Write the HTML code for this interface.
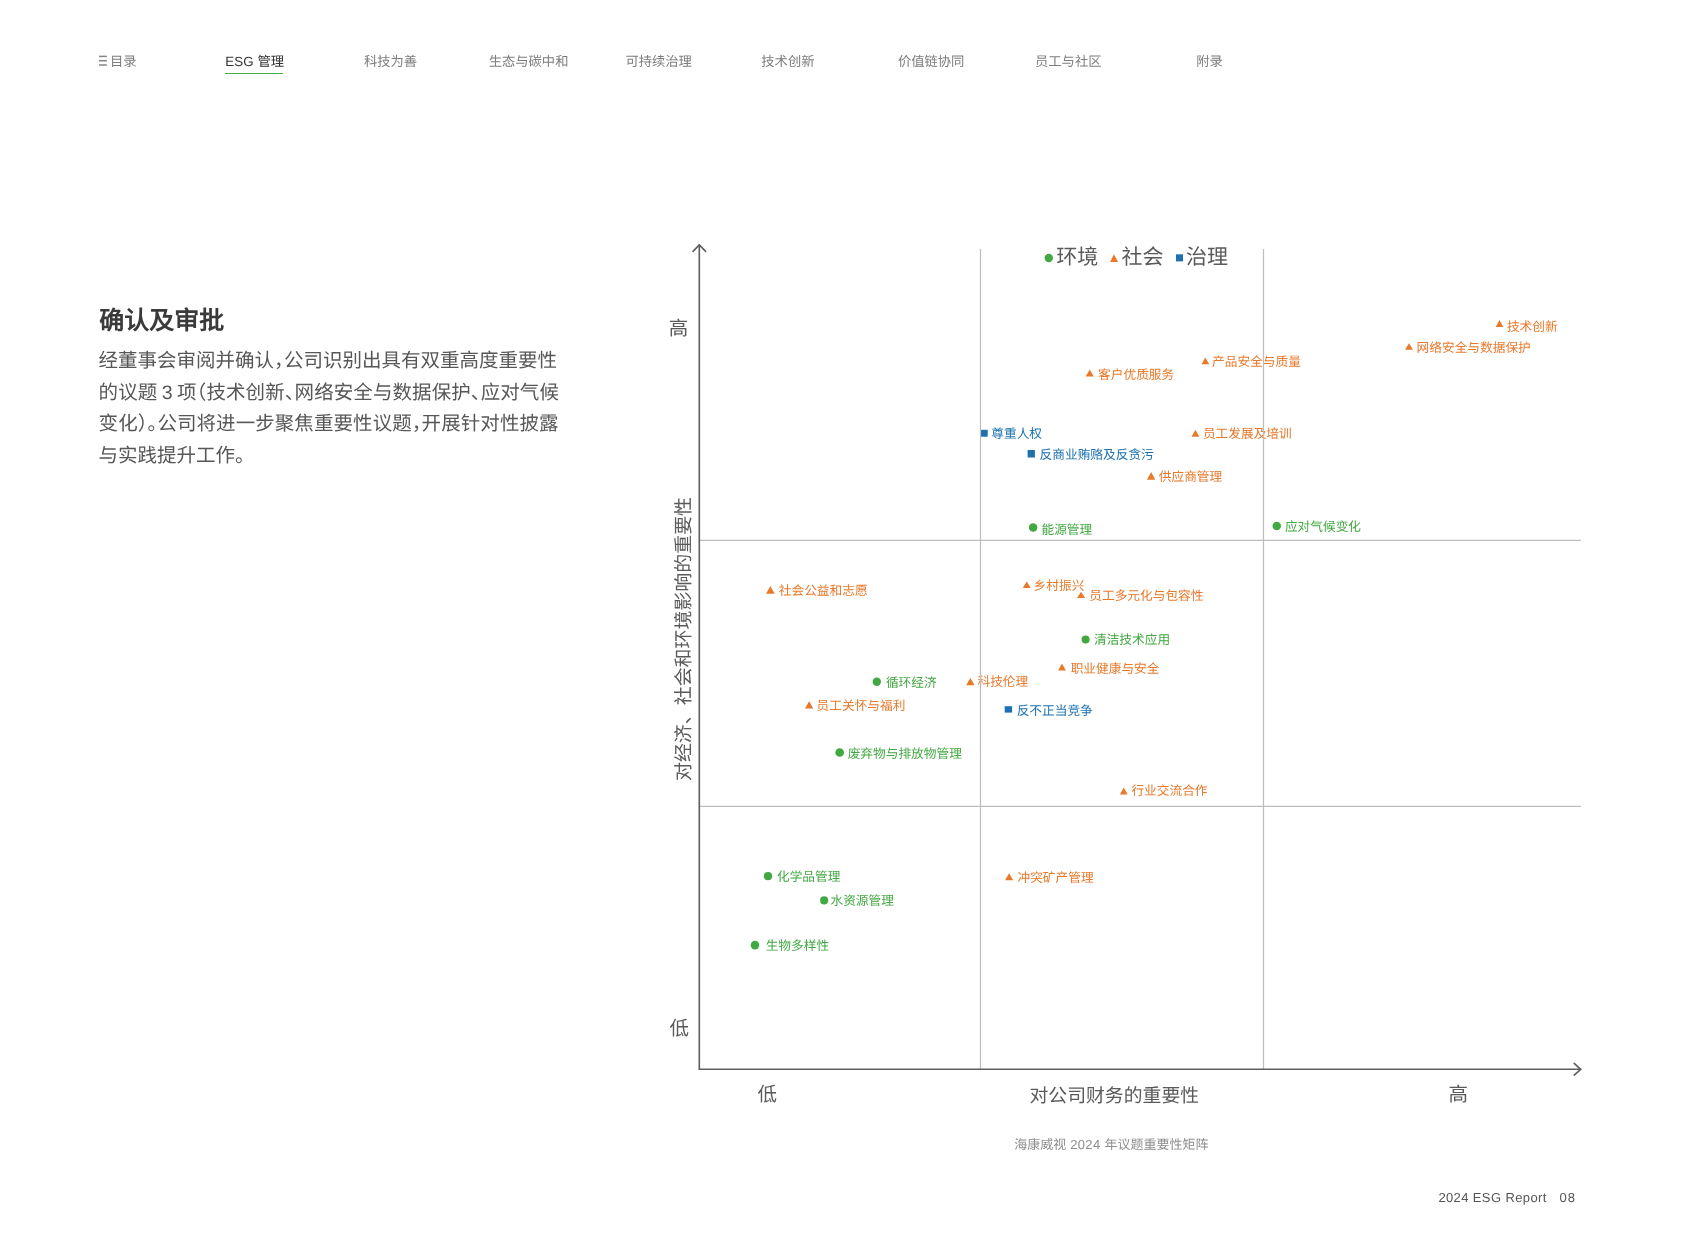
<!DOCTYPE html>
<html lang="zh-CN"><head><meta charset="utf-8"><title>ESG</title>
<style>
html,body{margin:0;padding:0;background:#fff;}
body{width:1684px;height:1242px;position:relative;overflow:hidden;font-family:"Liberation Sans",sans-serif;text-rendering:geometricPrecision;}
.a{position:absolute;white-space:nowrap;line-height:1;}
.nv{position:absolute;top:54.9px;font-size:13.3px;line-height:13.3px;color:#7d7d7d;white-space:nowrap;}
.lb{position:absolute;font-size:12.7px;line-height:12.7px;white-space:nowrap;}
.pl{position:absolute;left:98.6px;font-size:19.5px;line-height:19.5px;color:#575757;white-space:nowrap;text-align:justify;text-align-last:justify;}
.h{font-feature-settings:"halt";}
.wrap{position:absolute;left:0;top:0;width:1684px;height:1242px;will-change:transform;}
</style></head><body><div class="wrap">
<!-- nav -->
<svg class="a" style="left:0;top:0" width="200" height="80"><g stroke="#858585" stroke-width="1.5"><line x1="99" y1="56.4" x2="106.9" y2="56.4"/><line x1="99" y1="60.7" x2="106.9" y2="60.7"/><line x1="99" y1="65" x2="106.9" y2="65"/></g></svg>
<div class="nv" style="left:110.00px">目录</div><div class="nv" style="left:363.90px">科技为善</div><div class="nv" style="left:488.70px">生态与碳中和</div><div class="nv" style="left:625.40px">可持续治理</div><div class="nv" style="left:761.30px">技术创新</div><div class="nv" style="left:897.90px">价值链协同</div><div class="nv" style="left:1035.00px">员工与社区</div><div class="nv" style="left:1196.30px">附录</div>
<div class="nv" style="left:225.3px;color:#333"><span style="letter-spacing:0.1px">ESG </span>管理</div>
<div class="a" style="left:225.3px;top:73px;width:58px;height:1.3px;background:#45AD45"></div>
<!-- left text -->
<div class="a" style="left:99.2px;top:308.9px;font-size:25px;font-weight:bold;color:#3a3a3a">确认及审批</div>
<div class="pl" style="top:352.3px;width:457.6px">经董事会审阅并确认<span class="h">，</span>公司识别出具有双重高度重要性</div>
<div class="pl" style="top:383.9px;width:460.4px">的议题<span style="margin:0 4.4px 0 4.3px">3</span>项<span class="h">（</span>技术创新<span class="h">、</span>网络安全与数据保护<span class="h">、</span>应对气候</div>
<div class="pl" style="top:414.8px;width:460px">变化<span class="h">）。</span>公司将进一步聚焦重要性议题<span class="h">，</span>开展针对性披露</div>
<div class="pl" style="top:446.6px;text-align:left;text-align-last:left">与实践提升工作<span class="h">。</span></div>
<!-- chart text -->
<div class="lb" style="left:1506.90px;top:320.70px;color:#E8792B">技术创新</div><div class="lb" style="left:1416.60px;top:341.50px;color:#E8792B">网络安全与数据保护</div><div class="lb" style="left:1212.10px;top:356.35px;color:#E8792B">产品安全与质量</div><div class="lb" style="left:1098.10px;top:368.50px;color:#E8792B">客户优质服务</div><div class="lb" style="left:991.30px;top:428.00px;color:#1D71B0">尊重人权</div><div class="lb" style="left:1202.90px;top:428.00px;color:#E8792B">员工发展及培训</div><div class="lb" style="left:1039.60px;top:448.80px;color:#1D71B0">反商业贿赂及反贪污</div><div class="lb" style="left:1158.80px;top:470.85px;color:#E8792B">供应商管理</div><div class="lb" style="left:1041.50px;top:524.00px;color:#42A842">能源管理</div><div class="lb" style="left:1284.90px;top:521.35px;color:#42A842">应对气候变化</div><div class="lb" style="left:778.80px;top:585.15px;color:#E8792B">社会公益和志愿</div><div class="lb" style="left:1033.60px;top:580.00px;color:#E8792B">乡村振兴</div><div class="lb" style="left:1089.30px;top:590.25px;color:#E8792B">员工多元化与包容性</div><div class="lb" style="left:1094.00px;top:634.15px;color:#42A842">清洁技术应用</div><div class="lb" style="left:1070.70px;top:662.85px;color:#E8792B">职业健康与安全</div><div class="lb" style="left:885.90px;top:676.55px;color:#42A842">循环经济</div><div class="lb" style="left:977.50px;top:675.60px;color:#E8792B">科技伦理</div><div class="lb" style="left:816.60px;top:699.95px;color:#E8792B">员工关怀与福利</div><div class="lb" style="left:1016.70px;top:704.75px;color:#1D71B0">反不正当竞争</div><div class="lb" style="left:847.70px;top:748.00px;color:#42A842">废弃物与排放物管理</div><div class="lb" style="left:1131.40px;top:785.20px;color:#E8792B">行业交流合作</div><div class="lb" style="left:777.00px;top:871.15px;color:#42A842">化学品管理</div><div class="lb" style="left:1017.50px;top:871.55px;color:#E8792B">冲突矿产管理</div><div class="lb" style="left:830.50px;top:895.10px;color:#42A842">水资源管理</div><div class="lb" style="left:765.70px;top:940.00px;color:#42A842">生物多样性</div>
<!-- chart graphics -->
<svg class="a" style="left:0;top:0" width="1684" height="1242">
<polygon points="1499.50,320.00 1503.30,327.00 1495.70,327.00" fill="#E8792B"/><polygon points="1409.00,343.30 1413.00,349.80 1405.00,349.80" fill="#E8792B"/><polygon points="1205.35,357.50 1209.20,364.20 1201.50,364.20" fill="#E8792B"/><polygon points="1089.75,369.50 1093.80,376.60 1085.70,376.60" fill="#E8792B"/><rect x="980.90" y="429.80" width="6.80" height="6.90" fill="#1D71B0"/><polygon points="1195.45,429.80 1199.40,436.70 1191.50,436.70" fill="#E8792B"/><rect x="1027.60" y="450.00" width="7.30" height="7.50" fill="#1D71B0"/><polygon points="1151.15,472.00 1155.30,479.80 1147.00,479.80" fill="#E8792B"/><circle cx="1033.12" cy="527.45" r="4.24" fill="#42A842"/><circle cx="1276.75" cy="526.05" r="4.25" fill="#42A842"/><polygon points="770.35,586.10 774.70,593.80 766.00,593.80" fill="#E8792B"/><polygon points="1026.75,581.60 1030.70,588.00 1022.80,588.00" fill="#E8792B"/><polygon points="1081.05,591.70 1085.20,598.00 1076.90,598.00" fill="#E8792B"/><circle cx="1085.60" cy="639.45" r="4.03" fill="#42A842"/><polygon points="1062.00,663.50 1065.90,670.60 1058.10,670.60" fill="#E8792B"/><circle cx="876.80" cy="681.80" r="4.20" fill="#42A842"/><polygon points="970.35,677.90 974.60,685.20 966.10,685.20" fill="#E8792B"/><polygon points="809.15,701.30 813.30,708.50 805.00,708.50" fill="#E8792B"/><rect x="1004.70" y="706.20" width="7.40" height="6.40" fill="#1D71B0"/><circle cx="839.70" cy="752.45" r="4.32" fill="#42A842"/><polygon points="1123.75,787.50 1127.60,794.50 1119.90,794.50" fill="#E8792B"/><circle cx="768.00" cy="876.15" r="4.12" fill="#42A842"/><polygon points="1009.10,873.30 1013.20,880.30 1005.00,880.30" fill="#E8792B"/><circle cx="824.15" cy="900.40" r="4.03" fill="#42A842"/><circle cx="754.95" cy="945.10" r="4.28" fill="#42A842"/>
<g stroke="#BDBDBD" stroke-width="1.2">
<line x1="980.5" y1="249" x2="980.5" y2="1069"/>
<line x1="1263.5" y1="249" x2="1263.5" y2="1069"/>
<line x1="699" y1="540.3" x2="1581" y2="540.3"/>
<line x1="699" y1="806.4" x2="1581" y2="806.4"/>
</g>
<g stroke="#5E5E5E" stroke-width="1.6" fill="none" stroke-linecap="round" stroke-linejoin="round">
<line x1="699.3" y1="245" x2="699.3" y2="1069.3"/>
<line x1="699.3" y1="1069.3" x2="1580.8" y2="1069.3"/>
<polyline points="693.0,251.4 699.3,244.9 705.6,251.4"/>
<polyline points="1574.2,1063.4 1580.7,1069.3 1574.2,1075.2"/>
</g>
<circle cx="1048.8" cy="258" r="4.2" fill="#42A842"/>
<polygon points="1114,254.3 1118.1,262 1110,262" fill="#E8792B"/>
<rect x="1176" y="254.3" width="7" height="7.1" fill="#1D71B0"/>
</svg>
<!-- legend text -->
<div class="a" style="left:1056.2px;top:247.3px;font-size:21px;color:#5a5a5a">环境</div>
<div class="a" style="left:1121.4px;top:247.3px;font-size:21px;color:#5a5a5a">社会</div>
<div class="a" style="left:1185.9px;top:247.3px;font-size:21px;color:#5a5a5a">治理</div>
<!-- axis labels -->
<div class="a" style="left:668.8px;top:320.2px;font-size:19.5px;color:#5a5a5a">高</div>
<div class="a" style="left:669.4px;top:1019.5px;font-size:19.5px;color:#5a5a5a">低</div>
<div class="a" style="left:684.9px;top:639.2px;font-size:18.95px;color:#5a5a5a;transform:translate(-50%,-50%) rotate(-90deg);">对经济、社会和环境影响的重要性</div>
<div class="a" style="left:757.6px;top:1086.3px;font-size:19.5px;color:#5a5a5a">低</div>
<div class="a" style="left:1029.5px;top:1086.9px;font-size:18.85px;color:#5a5a5a">对公司财务的重要性</div>
<div class="a" style="left:1448.4px;top:1086.3px;font-size:19.5px;color:#5a5a5a">高</div>
<div class="a" style="left:1014.2px;top:1137.9px;font-size:13px;color:#8e8e8e">海康威视<span style="letter-spacing:0.35px"> 2024 </span>年议题重要性矩阵</div>
<div class="a" style="left:1438.4px;top:1191.2px;font-size:13px;letter-spacing:0.38px;color:#555">2024 ESG Report</div>
<div class="a" style="left:1559.4px;top:1191.2px;font-size:13px;letter-spacing:1.2px;color:#555">08</div>
</div></body></html>
